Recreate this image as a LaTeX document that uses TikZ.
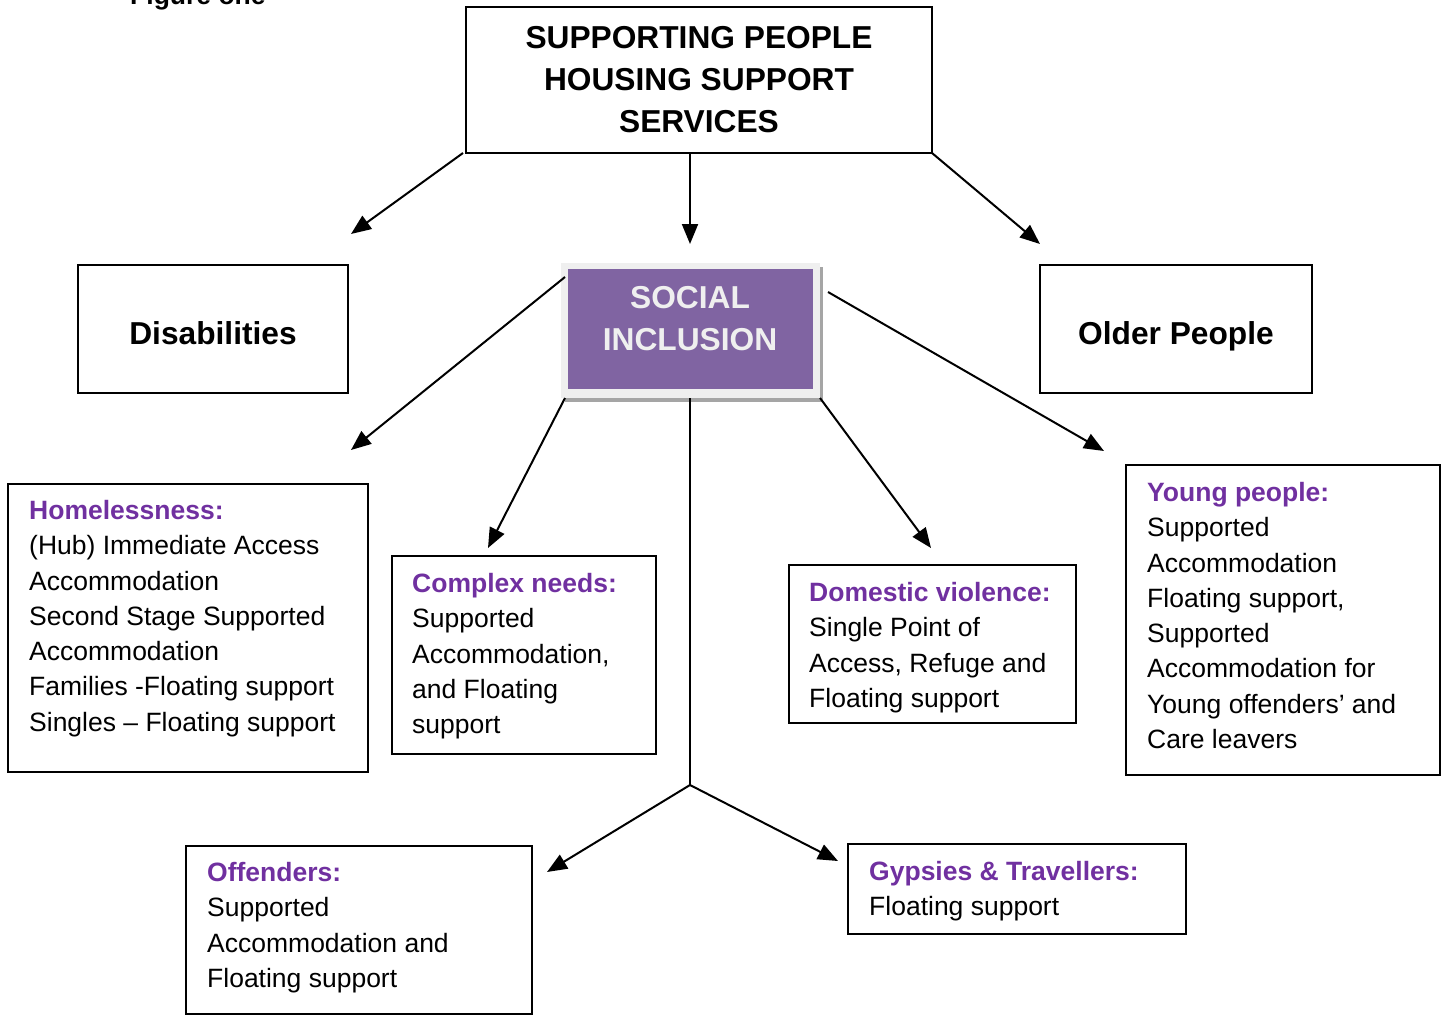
\documentclass[tikz,border=0pt]{standalone}
\usepackage{fontspec}
\setmainfont{Liberation Sans}
\usetikzlibrary{arrows.meta}
\definecolor{headpurple}{HTML}{7030A0}
\definecolor{boxpurple}{HTML}{8064A2}
\definecolor{framegrey}{HTML}{EFEFEF}
\definecolor{shadowgrey}{HTML}{A5A5A5}
\newcommand{\grouphead}[1]{{\color{headpurple}\bfseries #1}}

\begin{document}
\begin{tikzpicture}[x=1pt,y=-1pt,
    box/.style={draw, line width=1.6pt, rectangle, anchor=north west, inner sep=0pt, outer sep=0pt},
    bigtext/.style={font=\fontsize{31.7}{42}\selectfont\bfseries, align=center},
    txt/.style={anchor=north west, align=left, inner sep=0pt, font=\fontsize{26.5}{35.3}\selectfont},
    arr/.style={line width=2pt, -{Triangle[length=20pt,width=16pt]}}]
    \useasboundingbox (0,0) rectangle (1448,1015);
    \node[anchor=base west, inner sep=0pt, font=\fontsize{26.5}{32}\selectfont\bfseries] (fig) at (130,4) {Figure one};
    % arrow tips
    \coordinate (t1) at (351,234);
    \coordinate (t2) at (690,244);
    \coordinate (t3) at (1040,244);
    \coordinate (t4) at (351,450);
    \coordinate (t5) at (1104,451);
    \coordinate (t6) at (488,548);
    \coordinate (t7) at (931,548);
    \coordinate (t8) at (547,872);
    \coordinate (t9) at (838,861);
    \coordinate (fork) at (690,785);
    % top row
    \node[box, bigtext, minimum width=466pt, minimum height=146pt] (title) at (466,7)
        {SUPPORTING PEOPLE\\HOUSING SUPPORT\\SERVICES};
    \node[box, bigtext, text height=31pt, text depth=0pt, minimum width=270pt, minimum height=128pt] (dis) at (78,265) {Disabilities};
    \node[box, bigtext, text height=31pt, text depth=0pt, minimum width=272pt, minimum height=128pt] (old) at (1040,265) {Older People};
    % social inclusion with its frame and shadow
    \fill[shadowgrey] (565,267) rectangle (823,402);
    \node[box, draw=none, fill=framegrey, minimum width=259pt, minimum height=135pt] (social) at (561,263) {};
    \node[box, draw=none, fill=boxpurple, minimum width=245pt, minimum height=120pt] (socialfill) at (568,269) {};
    \node[bigtext, text=framegrey] (sitext) at (690,319) {SOCIAL\\INCLUSION};
    % client groups (first baseline sits 35pt below the box top)
    \node[box, minimum width=360pt, minimum height=288pt] (home) at (8,484) {};
    \node[txt] (hometext) at ([shift={(21,16)}]home.north west)
        {\grouphead{Homelessness:}\\(Hub) Immediate Access\\Accommodation\\Second Stage Supported\\Accommodation\\Families -Floating support\\Singles -- Floating support};
    \node[box, minimum width=264pt, minimum height=198pt] (complex) at (392,556) {};
    \node[txt] (complextext) at ([shift={(20,17)}]complex.north west)
        {\grouphead{Complex needs:}\\Supported\\Accommodation,\\and Floating\\support};
    \node[box, minimum width=287pt, minimum height=158pt] (dv) at (789,565) {};
    \node[txt] (dvtext) at ([shift={(20,17)}]dv.north west)
        {\grouphead{Domestic violence:}\\Single Point of\\Access, Refuge and\\Floating support};
    \node[box, minimum width=314pt, minimum height=310pt] (young) at (1126,465) {};
    \node[txt] (youngtext) at ([shift={(21,17)}]young.north west)
        {\grouphead{Young people:}\\Supported\\Accommodation\\Floating support,\\Supported\\Accommodation for\\Young offenders’ and\\Care leavers};
    \node[box, minimum width=346pt, minimum height=168pt] (off) at (186,846) {};
    \node[txt] (offtext) at ([shift={(21,16)}]off.north west)
        {\grouphead{Offenders:}\\Supported\\Accommodation and\\Floating support};
    \node[box, minimum width=338pt, minimum height=90pt] (gyp) at (848,844) {};
    \node[txt] (gyptext) at ([shift={(21,17)}]gyp.north west)
        {\grouphead{Gypsies \& Travellers:}\\Floating support};
    % connectors
    \draw[arr] ([xshift=-3pt]title.south west) -- (t1);
    \draw[arr] (title.south -| t2) -- (t2);
    \draw[arr] (title.south east) -- (t3);
    \draw[arr] ([shift={(4,14)}]social.north west) -- (t4);
    \draw[arr] ([shift={(8,29)}]social.north east) -- (t5);
    \draw[arr] ([xshift=4pt]social.south west) -- (t6);
    \draw[arr] (social.south east) -- (t7);
    \draw[line width=2pt] (social.south -| fork) -- (fork);
    \draw[arr] (fork) -- (t8);
    \draw[arr] (fork) -- (t9);
\end{tikzpicture}
\end{document}
